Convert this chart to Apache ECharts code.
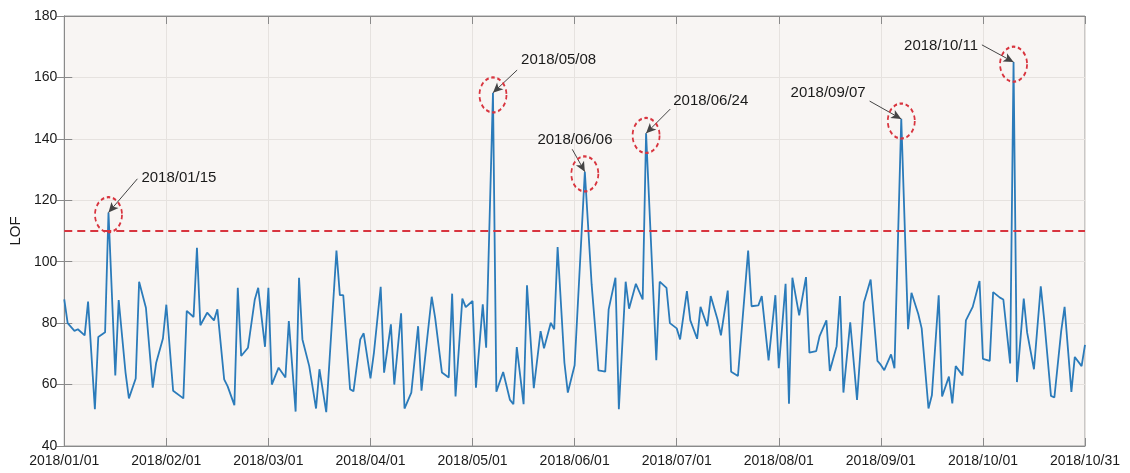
<!DOCTYPE html>
<html>
<head>
<meta charset="utf-8">
<script src="https://cdn.jsdelivr.net/npm/echarts@6.0.0/dist/echarts.min.js"></script>
<style>
  html, body { margin: 0; padding: 0; background: #fff; }
  #lof { width: 1130px; height: 473px; }
</style>
</head>
<body>
<div id="lof"></div>
<script>
const sampleIdx = [
  0, 1, 3, 4, 6, 7, 9, 10, 12, 13, 15, 16, 18, 19, 21, 22, 24, 26, 27, 29, 30, 32, 35, 36, 38, 39,
  40, 42, 44, 45, 47, 48, 50, 51, 52, 54, 56, 57, 59, 60, 61, 63, 65, 66, 68, 69, 70, 72, 74, 75, 77,
  80, 81, 82, 84, 85, 87, 88, 90, 91, 93, 94, 96, 97, 99, 100, 102, 104, 105, 108, 109, 111, 113, 114,
  115, 117, 118, 120, 121, 123, 124, 126, 127, 129, 131, 132, 133, 135, 136, 138, 140, 141, 143, 144,
  145, 147, 148, 150, 153, 155, 156, 157, 159, 160, 162, 163, 165, 166, 168, 170, 171, 174, 175, 177,
  178, 180, 181, 183, 184, 186, 187, 189, 190, 192, 193, 195, 196, 198, 201, 202, 204, 205, 207, 209,
  210, 212, 213, 214, 216, 218, 219, 221, 222, 224, 225, 227, 228, 229, 231, 233, 235, 237, 239, 240,
  241, 243, 244, 246, 248, 249, 251, 252, 254, 255, 257, 258, 260, 261, 262, 264, 265, 267, 269, 270,
  272, 273, 275, 276, 278, 279, 280, 282, 283, 285, 287, 288, 290, 291, 293, 294, 296, 297, 299, 300
]
const lofValues = [
  87.7, 80, 77.5, 78, 76, 87, 52, 75.5, 77, 116, 63, 87.5, 64, 55.5, 62, 93.5, 85, 59, 67, 75, 86, 58, 55.5, 84, 82, 104.5,
  79.3, 83.4, 80.9, 84.5, 61.7, 59.5, 53.3, 91.5, 69.3, 72, 87.7, 91.5, 72.3, 91.5, 60, 65.5, 62.3, 80.7, 51.2, 94.8, 74.7, 66, 52.2, 65, 51,
  103.6, 89.1, 89.1, 58.5, 57.8, 74.7, 76.7, 62, 70.2, 91.8, 63.9, 79.6, 60, 83.2, 52.2, 57.4, 79, 58, 88.6, 81.8, 63.9, 62.3, 89.6,
  56.1, 88, 85.2, 87.2, 59, 86.1, 72, 155, 57.7, 64.1, 55, 53.6, 72.2, 53.6, 92.3, 58.8, 77.4, 71.8, 80.1, 78,
  104.8, 67.1, 57.4, 66.3, 129.3, 92.6, 79, 64.6, 64.2, 84.5, 94.8, 52, 93.5, 84.7, 92.8, 87.7, 141.8, 67.9, 93.5, 91.5,
  80, 78.3, 74.7, 90.4, 80.9, 74.9, 85.3, 79, 88.8, 81.2, 76, 90.6, 64.2, 62.8, 103.6, 85.5, 85.8, 88.8, 67.9, 89.1,
  65.3, 92.8, 53.8, 94.8, 82.5, 95, 70.4, 70.9, 75.8, 80.9, 64.4, 72.5, 88.8, 57.4, 80.3, 55, 86.6, 94.2, 67.7, 66.4,
  64.7, 69.8, 65.3, 146.5, 78, 89.9, 83, 78.3, 52.2, 56.5, 89.1, 56.1, 62.6, 53.9, 66, 63, 80.9, 85.3, 93.7, 68.4,
  67.7, 90.1, 88.3, 87.7, 66.9, 165, 60.8, 88, 76.9, 65, 92, 81.2, 56.3, 55.8, 77.4, 85.3, 57.6, 69, 66, 72.9
]
const tickLabels = [
  '2018/01/01', '2018/02/01', '2018/03/01', '2018/04/01', '2018/05/01', '2018/06/01',
  '2018/07/01', '2018/08/01', '2018/09/01', '2018/10/01', '2018/10/31'
]
const threshold = 110

// anomalies flagged above the threshold
const peakDates = ['2018/01/15', '2018/05/08', '2018/06/06', '2018/06/24', '2018/09/07', '2018/10/11']
const peakIdx = [13, 126, 153, 171, 246, 279]
const peakLof = [116, 155, 129.3, 141.8, 146.5, 165]

// annotation layout, in axis units: where each date text sits and where its arrow starts
const labelAt = [[33.7, 127.2], [145.3, 165.7], [150.1, 139.6], [190.0, 152.3], [224.5, 155.1], [257.7, 170.4]]
const arrowFrom = [[21.5, 127.0], [133.1, 162.4], [149.3, 136.6], [178.1, 149.7], [236.7, 152.3], [269.7, 170.6]]

const FONT = '"Liberation Sans", Arial, sans-serif'
const myChart = echarts.init(document.getElementById('lof'))

const circles = peakIdx.map((x, i) => ({
  coord: [x, peakLof[i] - 0.7],
  symbol: 'circle',
  symbolSize: [27, 35],
  itemStyle: { color: 'rgba(0,0,0,0)', borderColor: '#d8353f', borderWidth: 2, borderType: [4, 3] },
  label: { show: false }
}))
const texts = peakDates.map((d, i) => ({
  coord: labelAt[i],
  symbol: 'circle',
  symbolSize: 1,
  itemStyle: { color: 'rgba(0,0,0,0)', borderWidth: 0 },
  label: { show: true, position: 'inside', formatter: d, color: '#1a1a1a', fontSize: 15, fontFamily: FONT }
}))
const arrows = peakIdx.map((x, i) => [
  { coord: arrowFrom[i], symbol: 'none' },
  { coord: [x, peakLof[i]], symbol: 'arrow', symbolSize: [7, 10] }
])

const option = {
  animation: false,
  backgroundColor: '#fff',
  textStyle: { fontFamily: FONT },
  grid: {
    left: 62, right: 45, top: 16, bottom: 27,
    show: true,
    backgroundColor: '#f8f5f3',
    borderColor: '#9a9a9a',
    borderWidth: 1
  },
  xAxis: [
    {
      type: 'value',
      min: 0,
      max: 300,
      interval: 30,
      axisLine: { show: true, lineStyle: { color: '#8a8a8a' } },
      axisTick: { show: true, inside: true, length: 8, lineStyle: { color: '#8a8a8a' } },
      axisLabel: {
        color: '#1a1a1a', fontSize: 14, margin: 8, fontFamily: FONT,
        formatter: v => tickLabels[Math.round(v / 30)]
      },
      splitLine: { show: true, lineStyle: { color: '#e6e2df' } }
    },
    {
      type: 'value',
      position: 'top',
      min: 0,
      max: 300,
      interval: 30,
      axisLine: { show: true, lineStyle: { color: '#8a8a8a' } },
      axisTick: { show: true, inside: true, length: 8, lineStyle: { color: '#8a8a8a' } },
      axisLabel: { show: false },
      splitLine: { show: false }
    }
  ],
  yAxis: [
    {
      type: 'value',
      min: 40,
      max: 180,
      interval: 20,
      name: 'LOF',
      nameLocation: 'middle',
      nameRotate: 90,
      nameGap: 37,
      nameTextStyle: { color: '#1a1a1a', fontSize: 15, fontFamily: FONT },
      axisLine: { show: true, lineStyle: { color: '#8a8a8a' } },
      axisTick: { show: true, inside: true, length: 8, lineStyle: { color: '#8a8a8a' } },
      axisLabel: { color: '#1a1a1a', fontSize: 14, margin: 7, fontFamily: FONT },
      splitLine: { show: true, lineStyle: { color: '#e6e2df' } }
    },
    {
      type: 'value',
      position: 'right',
      min: 40,
      max: 180,
      interval: 20,
      axisLine: { show: true, lineStyle: { color: '#8a8a8a' } },
      axisTick: { show: true, inside: true, length: 8, lineStyle: { color: '#8a8a8a' } },
      axisLabel: { show: false },
      splitLine: { show: false }
    }
  ],
  series: [
    {
      name: 'LOF',
      type: 'line',
      xAxisIndex: 0,
      yAxisIndex: 0,
      data: sampleIdx.map((x, i) => [x, lofValues[i]]),
      showSymbol: false,
      symbol: 'none',
      lineStyle: { color: '#2b7bba', width: 1.8 },
      z: 3,
      markLine: {
        silent: true,
        animation: false,
        symbol: ['none', 'none'],
        label: { show: false },
        lineStyle: { color: '#444', width: 1, type: 'solid' },
        data: [
          {
            yAxis: threshold,
            lineStyle: { color: '#d8353f', width: 2, type: [8, 5] }
          },
          ...arrows
        ]
      },
      markPoint: {
        silent: true,
        animation: false,
        data: [...circles, ...texts]
      }
    }
  ]
}

myChart.setOption(option)
</script>
</body>
</html>
